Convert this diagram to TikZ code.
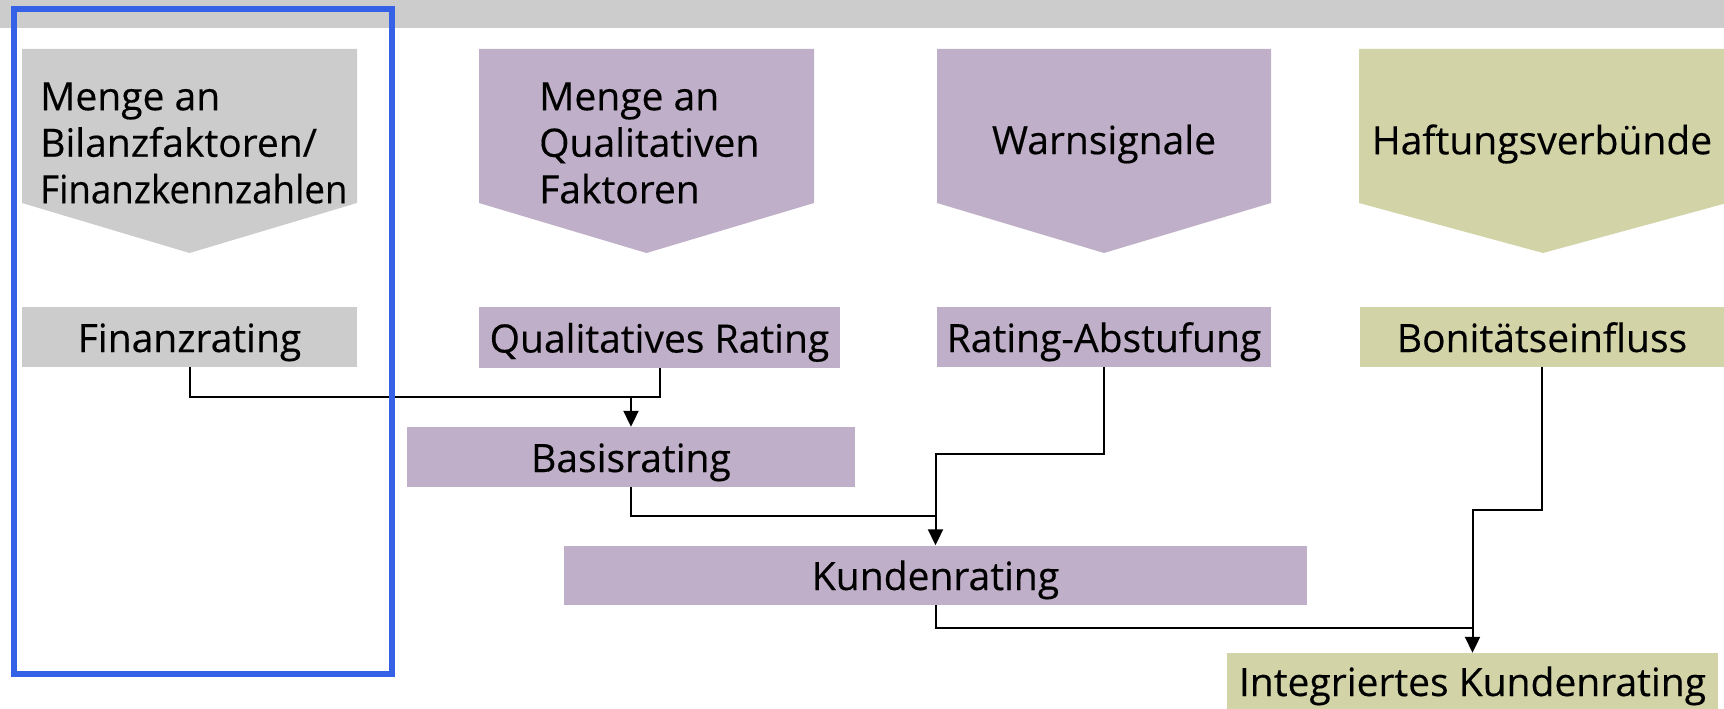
\documentclass[tikz,border=0pt]{standalone}
\usepackage{fontspec}
\setmainfont{Open Sans}[FakeBold=0.35]
\usetikzlibrary{arrows.meta}
\definecolor{cgray}{RGB}{204,204,204}
\definecolor{cpurp}{RGB}{192,175,200}
\definecolor{coliv}{RGB}{210,212,168}
\definecolor{cblue}{RGB}{52,97,230}
\tikzset{
  box/.style={rectangle, inner sep=0pt, text height=30pt, text depth=0pt, font=\fontsize{39}{46.5}\selectfont},
  atext/.style={inner sep=0pt, font=\fontsize{39}{46.5}\selectfont},
  conn/.style={line width=2pt, draw=black},
  arr/.style={conn, -{Triangle[width=15pt,length=16pt]}},
}
\begin{document}
\begin{tikzpicture}[x=1pt,y=-1pt]
\useasboundingbox (0,0) rectangle (1724,709);
% top bar
\fill[cgray] (0,0) rectangle (1724,28);
% arrow shapes
\fill[cgray] (22,49) -- (357,49) -- (357,203) -- (189.5,253) -- (22,203) -- cycle;
\fill[cpurp] (479,49) -- (814,49) -- (814,203) -- (646.5,253) -- (479,203) -- cycle;
\fill[cpurp] (937,49) -- (1271,49) -- (1271,203) -- (1104,253) -- (937,203) -- cycle;
\fill[coliv] (1359,49) -- (1727,49) -- (1727,203) -- (1543,253) -- (1359,203) -- cycle;
\node[atext, anchor=west, align=left] (t1) at (40,143) {Menge an\\Bilanzfaktoren/\\\scalebox{0.94}[1]{Finanzkennzahlen}};
\node[atext, anchor=west, align=left] (t2) at (539,143) {Menge an\\Qualitativen\\Faktoren};
\node[atext] (t3) at (1104,144) {Warnsignale};
\node[atext] (t4) at (1542,144) {Haftungsverbünde};
% rating boxes
\node[box, fill=cgray, minimum width=335pt, minimum height=60pt] (fin) at (189.5,337) {Finanzrating};
\node[box, fill=cpurp, minimum width=361pt, minimum height=61pt] (qual) at (659.5,337.5) {Qualitatives Rating};
\node[box, fill=cpurp, minimum width=334pt, minimum height=60pt] (abst) at (1104,337) {Rating-Abstufung};
\node[box, fill=coliv, minimum width=364pt, minimum height=60pt] (bon) at (1542,337) {Bonitätseinfluss};
\node[box, fill=cpurp, minimum width=448pt, minimum height=60pt] (basis) at (631,457) {Basisrating};
\node[box, fill=cpurp, minimum width=743pt, minimum height=59pt] (kunden) at (935.5,575) {Kundenrating};
\node[box, fill=coliv, minimum width=491pt, minimum height=56pt] (integ) at (1472.5,681) {Integriertes Kundenrating};
% junctions
\coordinate (j1) at (659.5,397);
\coordinate (j2) at (935.5,516);
\coordinate (j3) at (935.5,454);
\coordinate (j4) at (1472.5,628);
\coordinate (j5) at (1472.5,510);
% connectors
\draw[conn] (fin.south) |- (j1) -- (qual.south);
\draw[arr] (basis.north |- j1) -- (basis.north);
\draw[conn] (basis.south) |- (j2);
\draw[arr] (abst.south) |- (j3) -- (kunden.north);
\draw[conn] (kunden.south) |- (j4);
\draw[arr] (bon.south) |- (j5) -- (integ.north);
% highlight frame
\draw[cblue, line width=6pt] (14,9) rectangle (392,674);
\end{tikzpicture}
\end{document}
